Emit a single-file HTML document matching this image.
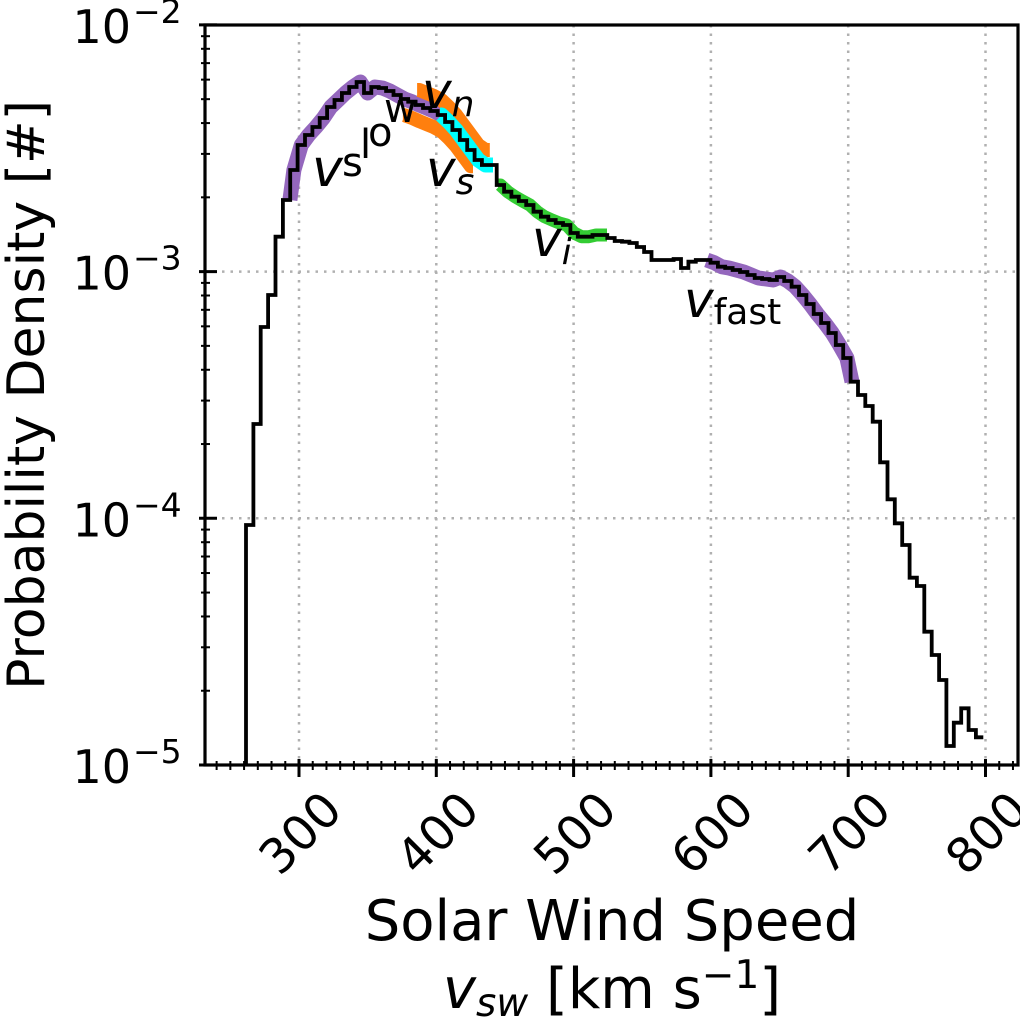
<!DOCTYPE html>
<html><head><meta charset="utf-8"><style>
html,body{margin:0;padding:0;background:#fff;}
svg{display:block;font-family:"DejaVu Sans","Liberation Sans",sans-serif;}
</style></head><body>
<svg id="chart" width="1020" height="1023" viewBox="0 0 1020 1023" xmlns="http://www.w3.org/2000/svg">
<g id="grid"></g>
<g id="bands"></g>
<g id="series"></g>
<g id="axes"></g>
<g id="labels">
  <text font-size="40"><tspan x="312" y="186" font-size="52" font-style="italic">v</tspan><tspan x="342" y="176">s</tspan><tspan x="360" y="158">l</tspan><tspan x="368" y="146">o</tspan><tspan x="384" y="122">w</tspan></text>
</g>
<text x="422" y="108" font-size="50" font-style="italic">v<tspan font-size="36" dy="8">n</tspan></text>
<text x="426" y="186" font-size="50" font-style="italic">v<tspan font-size="36" dy="8">s</tspan></text>
<text x="532" y="256" font-size="50" font-style="italic">v<tspan font-size="36" dy="8">i</tspan></text>
<text x="684" y="317" font-size="50"><tspan font-style="italic">v</tspan><tspan font-size="36" dy="7">fast</tspan></text>
<text transform="translate(44,395) rotate(-90)" text-anchor="middle" font-size="52">Probability Density [#]</text>
<text x="612" y="940" text-anchor="middle" font-size="56">Solar Wind Speed</text>
<text x="612" y="1008" text-anchor="middle" font-size="56"><tspan font-style="italic">v</tspan><tspan font-style="italic" font-size="39" dy="8">sw</tspan><tspan dy="-8"> [km s</tspan><tspan font-size="39" dy="-20">−1</tspan><tspan dy="20">]</tspan></text>
</svg>
<script>
const binStart = 261.4;
const binWidth = 5.37;
const yPix = [525,424,327,295,236.7,200,170,145,135,127,118,107,100,93,87,82,93,87,88,91,95,99,101.7,105,108,111,115,122,130,140,150,160,165,165,185,191.7,196.7,201,205,211.7,216.7,220,223,225,233,236.7,236.7,235,235,238,241,241.7,243,247,252,260,260,260,259,268,261.7,260,260,262.7,266.7,268,270,272,275,278,279,280,277,281,286.7,295,304,314,323,333,345,358,381.7,395,406,421.7,462.3,499.3,523.3,545,577.7,586,631.7,655,680,746,722.7,708.3,730,737.3];
const density = yPix.map(y => Math.pow(10, (765 - y) / 246.7 - 5));
const xTicks = [300,400,500,600,700,800];
const yTickExp = [-5,-4,-3,-2];
const bandNames = ['vslow','vn','vs','vs-cyan','vi','vfast'];
const bandStart = [293.4,386,375.7,402.7,445,597];
const bandEnd = [407.8,439,426.7,441.3,524.3,702.8];
const bandFactor = [1,1.15,0.86,1,1,1];

const NS='http://www.w3.org/2000/svg';
const L=205,R=1018,T=25,B=765;
const xs = v => 299 + (v-300)*1.373;
const ys = p => 765 - (Math.log10(p)+5)*246.7;
function mk(tag, attrs, parent){const e=document.createElementNS(NS,tag);for(const k in attrs)e.setAttribute(k,attrs[k]);parent.appendChild(e);return e;}

const grid=document.getElementById('grid');
xTicks.forEach(v=>{const l=mk('line',{x1:xs(v),x2:xs(v),y1:T,y2:B,stroke:'#b0b0b0','stroke-width':2.5,'stroke-dasharray':'2.5,6'},grid);

});
yTickExp.forEach(e=>{const y=ys(Math.pow(10,e));if(y<=T+1||y>=B-1)return;const l=mk('line',{x1:L,x2:R,y1:y,y2:y,stroke:'#b0b0b0','stroke-width':2.5,'stroke-dasharray':'2.5,6'},grid);

});

function bandPath(v0,v1,f){const pts=[];
  for(let i=0;i<density.length;i++){
    const a=binStart+i*binWidth,b=a+binWidth,c=(a+b)/2;
    if(b<=v0||a>=v1)continue;
    const y=ys(density[i]*f);
    if(pts.length===0)pts.push([xs(Math.max(a,v0)),y]);
    pts.push([xs(Math.min(Math.max(c,v0),v1)),y]);
    if(b>=v1)pts.push([xs(v1),y]);}
  return 'M'+pts.map(p=>p[0].toFixed(1)+','+p[1].toFixed(1)).join('L');}
const bands=document.getElementById('bands');
const bandColor=['#9467bd','#ff7f0e','#ff7f0e','#00ffff','#33cc33','#9467bd'];
const bandW=[15,14,14,15,13,15];
for(let i=0;i<bandNames.length;i++){
  const p=mk('path',{d:bandPath(bandStart[i],bandEnd[i],bandFactor[i]),fill:'none',stroke:bandColor[i],'stroke-width':bandW[i],'stroke-linejoin':'round','stroke-linecap':'butt'},bands);
  
  
}
const series=document.getElementById('series');
let d='M'+xs(binStart).toFixed(1)+','+B;
for(let i=0;i<density.length;i++){const a=binStart+i*binWidth,b=a+binWidth,y=ys(density[i]);
  d+='L'+xs(a).toFixed(1)+','+y.toFixed(1)+'L'+xs(b).toFixed(1)+','+y.toFixed(1);}
const hp=mk('path',{d:d,fill:'none',stroke:'#000','stroke-width':3.8,'stroke-linejoin':'miter'},series);



const axes=document.getElementById('axes');
const frame=mk('rect',{x:L,y:T,width:R-L,height:B-T,fill:'none',stroke:'#000','stroke-width':3.2},axes);


for(let v=240;v<=820;v+=10){const x=xs(v);if(x<L||x>R)continue;const major=v%100===0;
  const t=mk('line',{x1:x,x2:x,y1:B-(major?6:4),y2:B+(major?12:5),stroke:'#000','stroke-width':major?3:2},axes);
  
  }
xTicks.forEach(v=>{const x=xs(v);
  const t=mk('text',{transform:`translate(${x+20},${B+22}) rotate(-45)`,'text-anchor':'end','font-size':48,dy:'0.75em'},axes);
  t.textContent=String(v);
  
  });
for(let e=-5;e<=-2;e++){
  const y=ys(Math.pow(10,e));
  const t=mk('line',{x1:L-6,x2:L+12,y1:y,y2:y,stroke:'#000','stroke-width':3},axes);
  
  
  if(e<-2){for(let m=2;m<=9;m++){const yy=ys(m*Math.pow(10,e));
    const mt=mk('line',{x1:L-4,x2:L+5,y1:yy,y2:yy,stroke:'#000','stroke-width':2},axes);
    
    }}
  const lab=mk('text',{x:131,y:y+18,'text-anchor':'end','font-size':46},axes);
  
  
  lab.textContent='10';
  const sup=mk('text',{x:133,y:y-2,'text-anchor':'start','font-size':33},axes);
  
  
  sup.textContent='−'+(-e);
}
</script>
</body></html>
